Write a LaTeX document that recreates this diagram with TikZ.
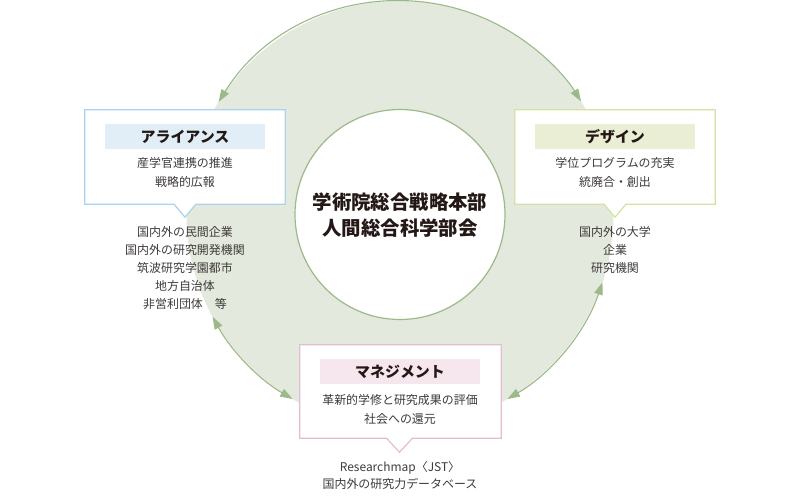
\documentclass[tikz,border=0pt]{standalone}
\usepackage{fontspec}
\setmainfont{Noto Sans CJK JP}
\usetikzlibrary{arrows.meta,calc}
\definecolor{ring}{HTML}{E3E9DC}
\definecolor{ringline}{HTML}{9CB98A}
\definecolor{aline}{HTML}{A9D3EF}
\definecolor{afill}{HTML}{E1EEF8}
\definecolor{dline}{HTML}{D5E2A3}
\definecolor{dfill}{HTML}{E9EED4}
\definecolor{mline}{HTML}{E5BDD3}
\definecolor{mfill}{HTML}{F6E7EF}
\definecolor{txt}{HTML}{3E3A39}
\definecolor{ttl}{HTML}{231815}
\begin{document}
\begin{tikzpicture}[x=1bp,y=-1bp,
  ringarrow/.style={draw=ringline, line width=1.1bp,
    {Triangle[length=12.5bp,width=8.5bp]}-{Triangle[length=12.5bp,width=8.5bp]}},
  boxshape/.style={minimum width=200bp, minimum height=94bp, inner sep=0pt},
  band/.style={minimum width=160bp, minimum height=25bp, inner sep=0pt,
    font=\fontsize{15}{18}\selectfont\bfseries, text=ttl},
  bodytext/.style={align=center, inner sep=0pt, text=txt,
    font=\fontsize{12}{19}\selectfont},
  listtext/.style={align=center, inner sep=0pt, text=txt,
    font=\fontsize{12}{18}\selectfont},
  outline/.style={line width=1.2bp, fill=white}
]
\useasboundingbox (0,0) rectangle (800,500);
\coordinate (c) at (400,214.5);
% ring
\fill[ring, even odd rule] (c) circle[radius=213.5] (c) circle[radius=105];
% arcs with arrows
\draw[ringarrow] ([shift={(-148.2:213.5)}]c) arc[start angle=-148.2, end angle=-32, radius=213.5];
\draw[ringarrow] ([shift={(-208.6:213.5)}]c) arc[start angle=-208.6, end angle=-239.8, radius=213.5];
\draw[ringarrow] ([shift={(59.8:213.5)}]c) arc[start angle=59.8, end angle=18.5, radius=213.5];
% centre
\node[circle, draw=ringline, fill=white, line width=1.2bp, minimum size=210bp, inner sep=0pt] (center) at (c) {};
\node[align=center, inner sep=0pt, text=ttl, font=\fontsize{19.5}{26}\selectfont\bfseries] (centertext) at (400,215) {学術院総合戦略本部\\人間総合科学部会};

% Alliance
\node[boxshape] (alli) at (185,157) {};
\draw[outline, draw=aline] (alli.north west) -- (alli.north east) -- (alli.south east)
  -- ($(alli.south)+(11,0)$) -- ($(alli.south)+(0,13)$) -- ($(alli.south)+(-11,0)$)
  -- (alli.south west) -- cycle;
\node[band, fill=afill] (allititle) at (185,136.5) {アライアンス};
\node[bodytext] (allibody) at (185,172.5) {産学官連携の推進\\戦略的広報};
\node[listtext] (allilist) at (185,268) {国内外の民間企業\\国内外の研究開発機関\\筑波研究学園都市\\地方自治体\\非営利団体\hspace{1em}等};

% Design
\node[boxshape] (des) at (615,157) {};
\draw[outline, draw=dline] (des.north west) -- (des.north east) -- (des.south east)
  -- ($(des.south)+(11,0)$) -- ($(des.south)+(0,13)$) -- ($(des.south)+(-11,0)$)
  -- (des.south west) -- cycle;
\node[band, fill=dfill] (destitle) at (615,136.5) {デザイン};
\node[bodytext] (desbody) at (615,172.5) {学位プログラムの充実\\統廃合・創出};
\node[listtext] (deslist) at (615,250) {国内外の大学\\企業\\研究機関};

% Management
\node[boxshape, minimum width=201bp, minimum height=93bp] (man) at (400.5,391.5) {};
\draw[outline, draw=mline] (man.north west) -- (man.north east) -- (man.south east)
  -- ($(man.south)+(12,0)$) -- ($(man.south)+(-1,14)$) -- ($(man.south)+(-14,0)$)
  -- (man.south west) -- cycle;
\node[band, fill=mfill] (mantitle) at (400,371.5) {マネジメント};
\node[bodytext] (manbody) at (400,409) {革新的学修と研究成果の評価\\社会への還元};
\node[listtext, font=\fontsize{12}{17}\selectfont] (manlist) at (400,475.5) {Researchmap〈JST〉\\国内外の研究力データベース};
\end{tikzpicture}
\end{document}
